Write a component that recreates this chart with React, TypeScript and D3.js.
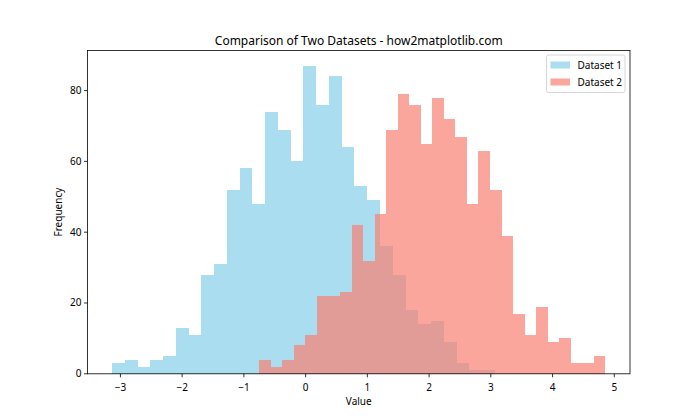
import React from "react";
import * as d3 from "d3";

const title = "Comparison of Two Datasets - how2matplotlib.com";
const xLabel = "Value";
const yLabel = "Frequency";
const seriesNames = ["Dataset 1", "Dataset 2"];

const counts1 = [3, 4, 2, 4, 5, 13, 11, 28, 31, 52, 58, 48, 74, 69, 60, 87, 76, 84, 64, 53, 49, 36, 28, 18, 14, 15, 9, 3, 1, 1];
const range1 = [-3.134, 3.064];
const counts2 = [4, 2, 4, 8, 11, 22, 22, 23, 42, 32, 45, 69, 79, 76, 65, 78, 72, 67, 48, 63, 52, 39, 17, 11, 19, 9, 10, 3, 3, 5];
const range2 = [-0.752, 4.855];

const xTicks = [-3, -2, -1, 0, 1, 2, 3, 4, 5];
const yTicks = [0, 20, 40, 60, 80];

const colors = ["#87CEEB", "#FA8072"];
const FONT = "'Noto Sans', 'DejaVu Sans', sans-serif";

export default function App() {
  const W = 700, H = 420;
  const L = 87.5, R = 630, T = 50.4, B = 373.8;
  const lo = Math.min(range1[0], range2[0]);
  const hi = Math.max(range1[1], range2[1]);
  const pad = (hi - lo) * 0.05;
  const x = d3.scaleLinear().domain([lo - pad, hi + pad]).range([L, R]);
  const ymax = Math.max(d3.max(counts1)!, d3.max(counts2)!) * 1.05;
  const y = d3.scaleLinear().domain([0, ymax]).range([B, T]);

  const series = [
    { counts: counts1, range: range1, color: colors[0] },
    { counts: counts2, range: range2, color: colors[1] },
  ];

  return (
    <svg width={W} height={H} style={{ position: "absolute", left: 0, top: 0, background: "#fff" }} fontFamily={FONT}>
      <rect x={0} y={0} width={W} height={H} fill="#fff" />
      {series.map((s, si) => {
        const n = s.counts.length;
        const w = (s.range[1] - s.range[0]) / n;
        return (
          <g key={si} fill={s.color} fillOpacity={0.7}>
            {s.counts.map((c, i) => {
              const x0 = x(s.range[0] + i * w);
              const x1 = x(s.range[0] + (i + 1) * w);
              return <rect key={i} x={x0} y={y(c)} width={x1 - x0} height={y(0) - y(c)} shapeRendering="crispEdges" />;
            })}
          </g>
        );
      })}
      {/* spines */}
      <rect x={L} y={T} width={R - L} height={B - T} fill="none" stroke="#000" strokeWidth={0.8} />
      {/* x ticks */}
      {xTicks.map((t) => (
        <g key={t} transform={`translate(${x(t)},${B})`}>
          <line y1={0} y2={3.5} stroke="#000" strokeWidth={0.8} />
          <text y={17} textAnchor="middle" fontSize={10} fill="#000">{t < 0 ? "\u2212" + Math.abs(t) : t}</text>
        </g>
      ))}
      {yTicks.map((t) => (
        <g key={t} transform={`translate(${L},${y(t)})`}>
          <line x1={0} x2={-3.5} stroke="#000" strokeWidth={0.8} />
          <text x={-6} dy="0.35em" textAnchor="end" fontSize={10} fill="#000">{t}</text>
        </g>
      ))}
      <text x={(L + R) / 2} y={405} textAnchor="middle" fontSize={10} fill="#000">{xLabel}</text>
      <text transform={`translate(62,${(T + B) / 2}) rotate(-90)`} textAnchor="middle" fontSize={10} fill="#000">{yLabel}</text>
      <text x={(L + R) / 2} y={45} textAnchor="middle" fontSize={12} fill="#000">{title}</text>
      {/* legend */}
      <g transform="translate(546.5,55)">
        <rect x={0} y={0} width={78.5} height={37.5} rx={2} fill="#fff" fillOpacity={0.8} stroke="#ccc" strokeWidth={0.8} />
        {seriesNames.map((nm, i) => (
          <g key={nm} transform={`translate(0,${i * 17})`}>
            <rect x={4} y={6.5} width={19.5} height={7} fill={colors[i]} fillOpacity={0.7} />
            <text x={31} y={10} dy="0.35em" fontSize={10} fill="#000">{nm}</text>
          </g>
        ))}
      </g>
    </svg>
  );
}
